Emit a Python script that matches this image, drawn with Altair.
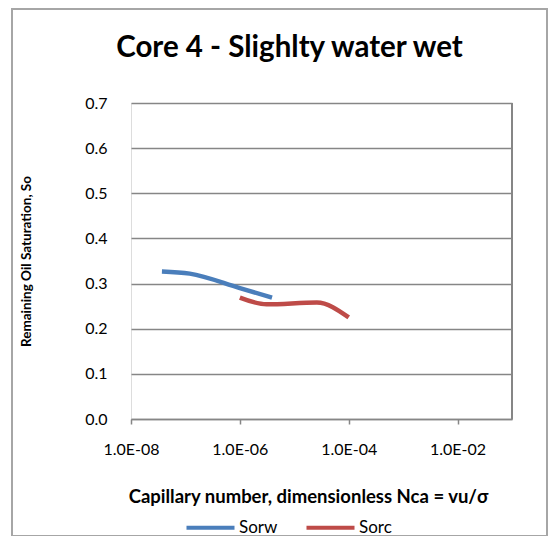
import altair as alt
import pandas as pd

# Data
sorw_x = [3.7e-8, 1.2e-7, 1.0e-6, 3.9e-6]
sorw_y = [0.327, 0.322, 0.290, 0.269]
sorc_x = [1.0e-6, 3.1e-6, 2.6e-5, 1.0e-4]
sorc_y = [0.269, 0.254, 0.258, 0.225]
series = ["Sorw", "Sorc"]
colors = ["#4A7EBB", "#BE4B48"]
y_ticks = [0.0, 0.1, 0.2, 0.3, 0.4, 0.5, 0.6, 0.7]
x_ticks = [1e-8, 1e-6, 1e-4, 1e-2]

df = pd.concat([
    pd.DataFrame({"Nca": sorw_x, "So": sorw_y, "series": "Sorw"}),
    pd.DataFrame({"Nca": sorc_x, "So": sorc_y, "series": "Sorc"}),
], ignore_index=True)

W, H = 381, 316
FONT = "Lato"
GRAY = "#868686"

frame = alt.Chart(df).mark_rect(fillOpacity=0, stroke="#A6A6A6", strokeWidth=1.5).encode(
    x=alt.value(-119), x2=alt.value(416), y=alt.value(-94), y2=alt.value(433)
)

right_line = alt.Chart(df).mark_rule(color=GRAY, strokeWidth=1.5).encode(
    x=alt.value(W), y=alt.value(0), y2=alt.value(H)
)

lines = alt.Chart(df).mark_line(strokeWidth=4.5, interpolate="monotone").encode(
    x=alt.X(
        "Nca:Q",
        scale=alt.Scale(type="log", domain=[1e-8, 1e-1], nice=False),
        axis=alt.Axis(
            values=x_ticks,
            labelExpr="'1.0E-0' + format(-round(log(datum.value) / LN10), 'd')",
            title="Capillary number, dimensionless Nca = vu/σ",
            grid=False,
            domainColor=GRAY,
            domainWidth=1.5,
            tickColor=GRAY,
            tickWidth=1.5,
            tickSize=5,
            labelPadding=17,
            labelFlush=False,
            labelFont=FONT,
            labelFontSize=16,
            labelColor="black",
            titleFont=FONT,
            titleFontSize=18.5,
            titleFontWeight="bold",
            titleColor="black",
            titleX=177,
            titleY=83,
            titleBaseline="alphabetic",
            titleAnchor="middle",
        ),
    ),
    y=alt.Y(
        "So:Q",
        scale=alt.Scale(domain=[0, 0.7], nice=False, zero=True),
        axis=alt.Axis(
            values=y_ticks,
            format=".1f",
            grid=True,
            gridColor=GRAY,
            gridWidth=1.5,
            domain=False,
            ticks=False,
            labelPadding=24,
            labelFont=FONT,
            labelFontSize=16,
            labelColor="black",
            title="Remaining Oil Saturation, So",
            titleFont=FONT,
            titleFontSize=13.5,
            titleFontWeight="bold",
            titleColor="black",
            titleX=-98,
            titleY=H / 2,
            titleAnchor="middle",
        ),
    ),
    color=alt.Color(
        "series:N",
        scale=alt.Scale(domain=series, range=colors),
        legend=alt.Legend(
            title=None,
            orient="none",
            legendX=71,
            legendY=416,
            direction="horizontal",
            symbolType="M-4,0H4",
            symbolSize=144,
            symbolStrokeWidth=4,
            labelFont=FONT,
            labelFontSize=17,
            labelColor="black",
            labelOffset=20,
            columnPadding=20,
        ),
    ),
)

chart = alt.layer(frame, right_line, lines).properties(
    width=W,
    height=H,
    title=alt.TitleParams(
        "Core 4 - Slighlty water wet",
        font=FONT,
        fontSize=29.5,
        fontWeight="bold",
        color="black",
        anchor="middle",
        baseline="alphabetic",
        dx=-32,
        offset=-78,
    ),
    autosize=alt.AutoSizeParams(type="none"),
    padding={"left": 123, "top": 95, "right": 36, "bottom": 117},
).configure_view(stroke=None).configure(background="white")

chart.save("out.html", embed_options={"renderer": "svg", "actions": False})
